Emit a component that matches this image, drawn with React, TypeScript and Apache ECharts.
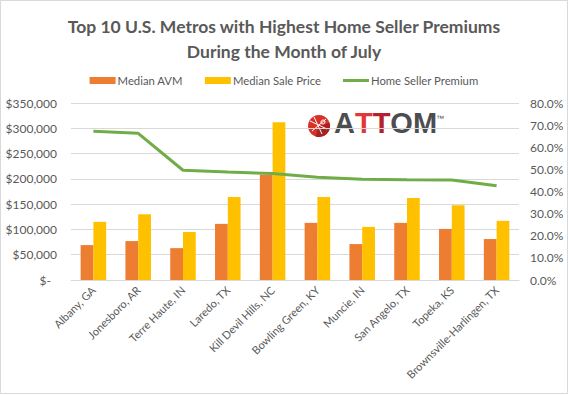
import React, { useEffect, useRef } from "react";
import * as echarts from "echarts";

const categories = [
  "Albany, GA",
  "Jonesboro, AR",
  "Terre Haute, IN",
  "Laredo, TX",
  "Kill Devil Hills, NC",
  "Bowling Green, KY",
  "Muncie, IN",
  "San Angelo, TX",
  "Topeka, KS",
  "Brownsville-Harlingen, TX",
];
const medianAVM = [69000, 77000, 63000, 111000, 208000, 113000, 71000, 113000, 101000, 81000];
const medianSalePrice = [115000, 130000, 95000, 164000, 312000, 164000, 105000, 162000, 148000, 117000];
const sellerPremium = [67.2, 66.3, 49.6, 48.8, 48.1, 46.4, 45.5, 45.3, 45.2, 42.6];

const titleLines = ["Top 10 U.S. Metros with Highest Home Seller Premiums", "During the Month of July"];
const seriesNames = ["Median AVM", "Median Sale Price", "Home Seller Premium"];

const FONT = "Lato, 'Open Sans', sans-serif";
const TXT = "#595959";

export default function App() {
  const ref = useRef<HTMLDivElement>(null);
  useEffect(() => {
    if (!ref.current) return;
    const chart = echarts.init(ref.current, undefined, { renderer: "svg" });
    chart.setOption({
      animation: false,
      backgroundColor: "#ffffff",
      textStyle: { fontFamily: FONT },
      title: {
        text: titleLines.join("\n"),
        left: "center",
        top: 9,
        textStyle: {
          fontFamily: FONT,
          fontWeight: "bold",
          fontSize: 17.5,
          lineHeight: 25,
          color: TXT,
        },
      },
      legend: {
        top: 70,
        left: "center",
        itemWidth: 26,
        itemHeight: 7,
        itemGap: 22,
        textStyle: { fontFamily: FONT, fontSize: 11.3, color: TXT, padding: [0, 0, 0, -3] },
        data: [
          { name: seriesNames[0], icon: "rect" },
          { name: seriesNames[1], icon: "rect" },
          { name: seriesNames[2], icon: "path://M0,0L0,0M0,2L26,2L26,5L0,5ZM26,7L26,7" },
        ],
      },
      grid: { left: 71, right: 49, top: 103, bottom: 115, containLabel: false },
      xAxis: {
        type: "category",
        data: categories,
        axisTick: { show: false },
        axisLine: { lineStyle: { color: "#d9d9d9" } },
        axisLabel: {
          rotate: 45,
          interval: 0,
          margin: 8,
          fontFamily: FONT,
          fontSize: 11,
          color: TXT,
        },
      },
      yAxis: [
        {
          type: "value",
          min: 0,
          max: 350000,
          interval: 50000,
          axisLine: { show: false },
          axisTick: { show: false },
          splitLine: { lineStyle: { color: "#d9d9d9" } },
          axisLabel: {
            margin: 14,
            fontFamily: FONT,
            fontSize: 12,
            color: TXT,
            formatter: (v: number) => (v === 0 ? "$-  " : "$" + v.toLocaleString("en-US")),
          },
        },
        {
          type: "value",
          min: 0,
          max: 80,
          interval: 10,
          axisLine: { show: false },
          axisTick: { show: false },
          splitLine: { show: false },
          axisLabel: {
            margin: 11,
            fontFamily: FONT,
            fontSize: 12,
            color: TXT,
            formatter: (v: number) => v.toFixed(1) + "%",
          },
        },
      ],
      series: [
        {
          name: seriesNames[0],
          type: "bar",
          data: medianAVM,
          itemStyle: { color: "#ED7D31" },
          barGap: "0%",
          barCategoryGap: "43%",
        },
        {
          name: seriesNames[1],
          type: "bar",
          data: medianSalePrice,
          itemStyle: { color: "#FFC000" },
          barGap: "0%",
          barCategoryGap: "43%",
        },
        {
          name: seriesNames[2],
          type: "line",
          yAxisIndex: 1,
          data: sellerPremium,
          symbol: "none",
          lineStyle: { color: "#70AD47", width: 3 },
          itemStyle: { color: "#70AD47" },
          z: 5,
        },
      ],
      graphic: [
        {
          type: "rect",
          silent: true,
          shape: { x: 0.5, y: 0.5, width: 567, height: 393 },
          style: { fill: "none", stroke: "#d9d9d9", lineWidth: 1 },
          z: 100,
        },
        {
          type: "group",
          z: 50,
          children: [
            { type: "circle", shape: { cx: 319, cy: 126, r: 11 }, style: { fill: "#d6322a" } },
            {
              type: "sector",
              shape: { cx: 319, cy: 126, r: 11, r0: 0, startAngle: -0.3, endAngle: 1.9 },
              style: { fill: "#a8201f" },
            },
            { type: "line", shape: { x1: 310, y1: 121, x2: 327, y2: 129 }, style: { stroke: "#ffffff", lineWidth: 1 } },
            { type: "line", shape: { x1: 314, y1: 117, x2: 322, y2: 134 }, style: { stroke: "#ffffff", lineWidth: 1 } },
            { type: "line", shape: { x1: 312, y1: 131, x2: 326, y2: 119 }, style: { stroke: "#ffffff", lineWidth: 1 } },
            { type: "circle", shape: { cx: 323, cy: 122, r: 2 }, style: { fill: "none", stroke: "#ffffff", lineWidth: 1 } },
            {
              type: "text",
              x: 334,
              y: 137,
              style: {
                text: "{g|A}{r1|T}{r2|T}{g|OM}",
                textVerticalAlign: "bottom",
                rich: {
                  g: { fill: "#4d4d4f", fontSize: 29, fontWeight: "bold", fontFamily: "'Liberation Sans', Arial, sans-serif" },
                  r1: { fill: "#e2373a", fontSize: 29, fontWeight: "bold", fontFamily: "'Liberation Sans', Arial, sans-serif" },
                  r2: { fill: "#b5202a", fontSize: 29, fontWeight: "bold", fontFamily: "'Liberation Sans', Arial, sans-serif" },
                },
              },
            },
            {
              type: "text",
              x: 436,
              y: 114,
              style: { text: "™", fill: "#4d4d4f", fontSize: 8, fontFamily: "'Liberation Sans', Arial, sans-serif" },
            },
          ],
        },
      ],
    });
    return () => chart.dispose();
  }, []);
  return <div ref={ref} style={{ position: "fixed", left: 0, top: 0, width: 568, height: 395 }} />;
}
